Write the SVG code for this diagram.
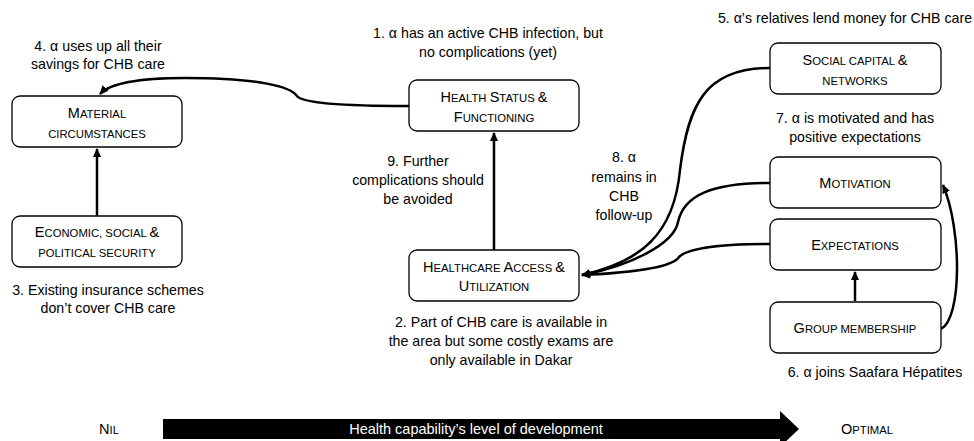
<svg xmlns="http://www.w3.org/2000/svg" width="974" height="441" viewBox="0 0 974 441">
<defs>
<marker id="ah" viewBox="0 0 10 10" refX="9" refY="5" markerWidth="9" markerHeight="9" markerUnits="userSpaceOnUse" orient="auto">
<path d="M0,0.5 L10,5 L0,9.5 Z" fill="#000"/>
</marker>
<style>
.box{fill:#fff;stroke:#000;stroke-width:1.3}
.nt{font-family:"Liberation Sans",Arial,sans-serif;font-size:11.3px;text-anchor:middle;fill:#000}
.b{font-size:14.5px}
.lb{font-family:"Liberation Sans",Arial,sans-serif;font-size:14.2px;text-anchor:middle;fill:#000}
.cn{fill:none;stroke:#000;stroke-width:2.5;marker-end:url(#ah)}
</style>
</defs>
<rect width="974" height="441" fill="#fff"/>

<g id="connectors">
<path class="cn" d="M409,106 C350,106 303,104 297,96 C291,87 260,78 185,78 C140,78 110,83 100,94"/>
<path class="cn" d="M97,216 L97,149"/>
<path class="cn" d="M494,250 L494,133"/>
<path class="cn" d="M855,301 L855,272"/>
<path class="cn" d="M770,68 C705,68 688,105 680,170 C674,235 640,262 582,275"/>
<path class="cn" d="M770,183 C712,183 684,195 678,222 C674,244 630,266 582,275"/>
<path class="cn" d="M770,244 C718,244 688,248 679,257 C672,268 625,273 582,275"/>
<path class="cn" d="M941,329 C962,318 962,230 943,185"/>
</g>

<g id="material">
<rect class="box" x="12" y="96" width="170" height="51" rx="8"/>
<text class="nt" x="97" y="118"><tspan class="b">M</tspan>ATERIAL</text>
<text class="nt" x="97" y="138">CIRCUMSTANCES</text>
</g>
<g id="economic">
<rect class="box" x="12" y="216" width="170" height="51" rx="8"/>
<text class="nt" x="97" y="237"><tspan class="b">E</tspan>CONOMIC, SOCIAL <tspan class="b">&amp;</tspan></text>
<text class="nt" x="97" y="257">POLITICAL SECURITY</text>
</g>
<g id="health-status">
<rect class="box" x="409" y="80" width="170" height="51" rx="8"/>
<text class="nt" x="494" y="102"><tspan class="b">H</tspan>EALTH <tspan class="b">S</tspan>TATUS <tspan class="b">&amp;</tspan></text>
<text class="nt" x="494" y="122"><tspan class="b">F</tspan>UNCTIONING</text>
</g>
<g id="healthcare-access">
<rect class="box" x="409" y="250" width="170" height="51" rx="8"/>
<text class="nt" x="494" y="272"><tspan class="b">H</tspan>EALTHCARE <tspan class="b">A</tspan>CCESS <tspan class="b">&amp;</tspan></text>
<text class="nt" x="494" y="291"><tspan class="b">U</tspan>TILIZATION</text>
</g>
<g id="social-capital">
<rect class="box" x="770" y="43" width="171" height="51" rx="8"/>
<text class="nt" x="855" y="65"><tspan class="b">S</tspan>OCIAL CAPITAL <tspan class="b">&amp;</tspan></text>
<text class="nt" x="855" y="85">NETWORKS</text>
</g>
<g id="motivation">
<rect class="box" x="770" y="157" width="171" height="51" rx="8"/>
<text class="nt" x="855" y="188"><tspan class="b">M</tspan>OTIVATION</text>
</g>
<g id="expectations">
<rect class="box" x="770" y="219" width="171" height="51" rx="8"/>
<text class="nt" x="855" y="250"><tspan class="b">E</tspan>XPECTATIONS</text>
</g>
<g id="group-membership">
<rect class="box" x="770" y="302" width="171" height="51" rx="8"/>
<text class="nt" x="855" y="333"><tspan class="b">G</tspan>ROUP MEMBERSHIP</text>
</g>

<g id="labels">
<text class="lb" x="98" y="51">4. α uses up all their</text>
<text class="lb" x="98" y="69">savings for CHB care</text>
<text class="lb" x="488" y="38">1. α has an active CHB infection, but</text>
<text class="lb" x="488" y="57">no complications (yet)</text>
<text class="lb" x="845" y="23">5. α’s relatives lend money for CHB care</text>
<text class="lb" x="855" y="123">7. α is motivated and has</text>
<text class="lb" x="855" y="142">positive expectations</text>
<text class="lb" x="418" y="166">9. Further</text>
<text class="lb" x="418" y="185">complications should</text>
<text class="lb" x="418" y="204">be avoided</text>
<text class="lb" x="624" y="162">8. α</text>
<text class="lb" x="624" y="182">remains in</text>
<text class="lb" x="624" y="201">CHB</text>
<text class="lb" x="624" y="220">follow-up</text>
<text class="lb" x="108" y="295">3. Existing insurance schemes</text>
<text class="lb" x="108" y="313">don’t cover CHB care</text>
<text class="lb" x="501" y="327">2. Part of CHB care is available in</text>
<text class="lb" x="501" y="346">the area but some costly exams are</text>
<text class="lb" x="501" y="365">only available in Dakar</text>
<text class="lb" x="875" y="377">6. α joins Saafara Hépatites</text>
</g>

<g id="scale">
<path d="M163,419 L780,419 L780,411 L799,429 L780,447 L780,439 L163,439 Z" fill="#000"/>
<text class="lb" x="476" y="434" style="fill:#fff;font-size:14.5px">Health capability’s level of development</text>
<text class="nt" x="109" y="434"><tspan class="b">N</tspan>IL</text>
<text class="nt" x="867" y="434"><tspan class="b">O</tspan>PTIMAL</text>
</g>
</svg>
